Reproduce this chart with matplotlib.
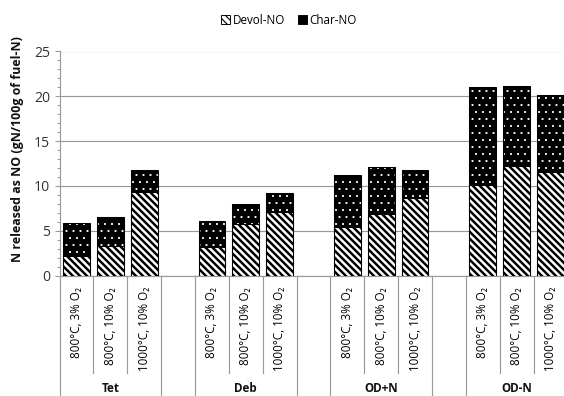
import matplotlib
matplotlib.use("Agg")
import matplotlib.pyplot as plt
from matplotlib.patches import Patch
from matplotlib.transforms import blended_transform_factory
import numpy as np

# ---- data -------------------------------------------------------------
groups = ["Tet", "Deb", "OD+N", "OD-N"]
conditions = ["800\u00b0C, 3% O\u2082", "800\u00b0C, 10% O\u2082", "1000\u00b0C, 10% O\u2082"]
devol_no = {
    "Tet":  [2.2, 3.3, 9.3],
    "Deb":  [3.2, 5.8, 7.1],
    "OD+N": [5.4, 6.9, 8.7],
    "OD-N": [10.1, 12.2, 11.5],
}
char_no = {
    "Tet":  [3.7, 3.2, 2.5],
    "Deb":  [2.9, 2.2, 2.1],
    "OD+N": [5.8, 5.2, 3.1],
    "OD-N": [10.9, 9.0, 8.6],
}
y_ticks = [0, 5, 10, 15, 20, 25]

# ---- style ------------------------------------------------------------
DPI = 84
FONT = ["Open Sans", "DejaVu Sans"]
plt.rcParams["font.family"] = FONT
GREY = "#999999"

fig = plt.figure(figsize=(564 / DPI, 396 / DPI), dpi=DPI)
W, H = 564.0, 396.0
x0, x1 = 59.5, 567.5          # pixel extent of the category axis
y0, y1 = 275.5, 51.5          # pixel rows of value 0 and 25
ax = fig.add_axes([x0 / W, 1 - y0 / H, (x1 - x0) / W, (y0 - y1) / H])

# slot layout: three bars per group, one empty slot between groups
n_cond = len(conditions)
slot = 0
positions = {}
for gi, g in enumerate(groups):
    positions[g] = np.arange(slot, slot + n_cond)
    slot += n_cond + 1
n_slots = slot - 1

bar_w = 0.79
for g in groups:
    xs = positions[g]
    d = np.array(devol_no[g])
    c = np.array(char_no[g])
    b1 = ax.bar(xs, d, width=bar_w, color="white", edgecolor="black",
                hatch="\\\\\\\\", linewidth=0.9, zorder=3)
    b2 = ax.bar(xs, c, bottom=d, width=bar_w, color="black", edgecolor="white",
                hatch="..", linewidth=0, zorder=3)
    ax.bar(xs, d + c, width=bar_w, fill=False, edgecolor="black",
           linewidth=0.9, zorder=4)
    for p in b1:
        if hasattr(p, "set_hatch_linewidth"):
            p.set_hatch_linewidth(2.1)
    for p in b2:
        if hasattr(p, "set_hatch_linewidth"):
            p.set_hatch_linewidth(0.6)

ax.set_xlim(-0.5, n_slots - 0.5)
ax.set_ylim(0, 25)
ax.set_yticks(y_ticks)
ax.set_yticks(np.arange(0, 26, 1), minor=True)
ax.set_xticks([])
ax.tick_params(axis="y", which="major", length=4, width=0.9, color=GREY,
               labelsize=12, pad=4, labelcolor="#333333")
ax.tick_params(axis="y", which="minor", length=2.6, width=0.8, color=GREY)
for lab in ax.get_yticklabels():
    lab.set_family(FONT)

for s in ["top", "right"]:
    ax.spines[s].set_visible(False)
for s in ["left", "bottom"]:
    ax.spines[s].set_color(GREY)
    ax.spines[s].set_linewidth(1.0)
ax.yaxis.grid(True, color=GREY, linewidth=1.0, zorder=0)
ax.set_axisbelow(True)

ax.set_ylabel("N released as NO (gN/100g of fuel-N)", fontsize=10.6,
              fontweight="bold", family=FONT, color="#111111")
ax.yaxis.set_label_coords(-(x0 - 18) / (x1 - x0), (y0 - 149) / (y0 - y1))
ax.yaxis.label.set_va("center")

# ---- two-level category axis -----------------------------------------
ah = y0 - y1
trans = blended_transform_factory(ax.transData, ax.transAxes)
short_y = -(373 - y0) / ah
long_y = -(396 - y0) / ah
label_top = -(287 - y0) / ah
group_top = -(382 - y0) / ah

boundaries_long = set()
for g in groups:
    xs = positions[g]
    boundaries_long.add(xs[0] - 0.5)
    boundaries_long.add(xs[-1] + 0.5)
    for b in xs[:-1] + 0.5:
        ax.plot([b, b], [0, short_y], transform=trans, color=GREY,
                linewidth=1.0, clip_on=False)
    for x, cond in zip(xs, conditions):
        ax.text(x, label_top, cond, transform=trans, rotation=90,
                ha="center", va="top", fontsize=10, family=FONT,
                color="black")
    ax.text(xs.mean(), group_top, g, transform=trans, ha="center", va="top",
            fontsize=10, fontweight="bold", family=FONT, color="#111111")
for b in sorted(boundaries_long):
    ax.plot([b, b], [0, long_y], transform=trans, color=GREY,
            linewidth=1.0, clip_on=False)

# ---- legend -----------------------------------------------------------
handles = [
    Patch(facecolor="white", edgecolor="black", hatch="\\\\\\\\", linewidth=0.8,
          label="Devol-NO"),
    Patch(facecolor="black", edgecolor="black", linewidth=0.8, label="Char-NO"),
]
fig.legend(handles=handles, loc="center", bbox_to_anchor=(289 / W, 1 - 20 / H),
           ncol=2, frameon=False, handlelength=0.75,
           handleheight=0.75, handletextpad=0.25, columnspacing=1.1,
           prop={"family": FONT, "size": 10})

fig.savefig("out.png", dpi=DPI)
